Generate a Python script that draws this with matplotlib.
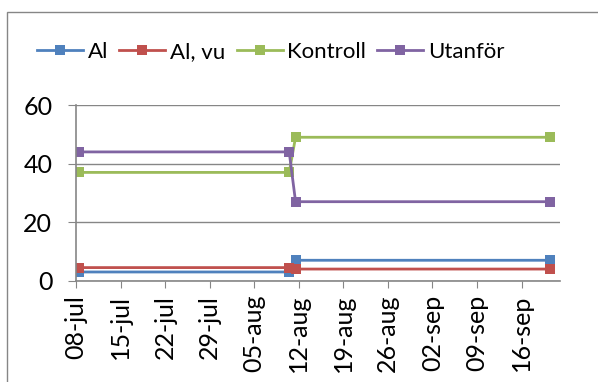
import datetime as dt

import matplotlib
matplotlib.use('Agg')
import matplotlib.dates as mdates
import matplotlib.pyplot as plt
from matplotlib.patches import Rectangle
from matplotlib.ticker import FuncFormatter

# sampling dates and counts per series
dates = [dt.date(2013, 7, 8), dt.date(2013, 8, 10), dt.date(2013, 8, 11), dt.date(2013, 9, 20)]
al = [3, 3, 7, 7]
al_vu = [4.5, 4.5, 4, 4]
kontroll = [37, 37, 49, 49]
utanfor = [44, 44, 27, 27]

series_names = ['Al', 'Al, vu', 'Kontroll', 'Utanför']
series_values = [al, al_vu, kontroll, utanfor]
colors = ['#4F81BD', '#C0504D', '#9BBB59', '#8064A2']

month_names = ['jan', 'feb', 'mar', 'apr', 'maj', 'jun',
               'jul', 'aug', 'sep', 'okt', 'nov', 'dec']

plt.rcParams['font.family'] = ['Lato', 'DejaVu Sans']
grey = '#868686'

fig = plt.figure(figsize=(5.98, 3.82), dpi=100)
ax = fig.add_axes([0.127, 0.265, 0.809, 0.460])

# points sit in the middle of their day, as on a date axis
x = [dt.datetime.combine(d, dt.time(12)) for d in dates]
for name, vals, c in zip(series_names, series_values, colors):
    ax.plot(x, vals, color=c, lw=2.0, marker='s', markersize=6.5,
            markeredgewidth=0, label=name)


def day_label(v, pos):
    d = mdates.num2date(v)
    return '%02d-%s' % (d.day, month_names[d.month - 1])


ax.set_ylim(0, 60)
ax.set_yticks([0, 20, 40, 60])
ax.set_xlim(dt.datetime(2013, 7, 8), dt.datetime(2013, 9, 22))
ax.set_xticks([mdates.date2num(dt.datetime(2013, 7, 8) + dt.timedelta(days=7 * i)) for i in range(11)])
ax.xaxis.set_major_formatter(FuncFormatter(day_label))

ax.grid(axis='y', color=grey, lw=1)
ax.set_axisbelow(True)
for side in ['top', 'right']:
    ax.spines[side].set_visible(False)
for side in ['left', 'bottom']:
    ax.spines[side].set_color(grey)
    ax.spines[side].set_linewidth(1.2)
ax.tick_params(axis='y', length=6, color=grey, labelsize=18, pad=11)
ax.tick_params(axis='x', length=5, color=grey, labelsize=18, labelrotation=90, pad=5)

fig.legend(loc='center', bbox_to_anchor=(0.453, 0.864), ncol=4, frameon=False,
           fontsize=16, handlelength=2.07, handletextpad=0.22, columnspacing=0.5,
           borderaxespad=0)

# outer chart frame
fig.patches.append(Rectangle((7 / 598, -0.1), 1.2, 0.1 + 1 - 12 / 382,
                             transform=fig.transFigure, fill=False,
                             edgecolor=grey, lw=1))

fig.savefig('out.png', dpi=100)
